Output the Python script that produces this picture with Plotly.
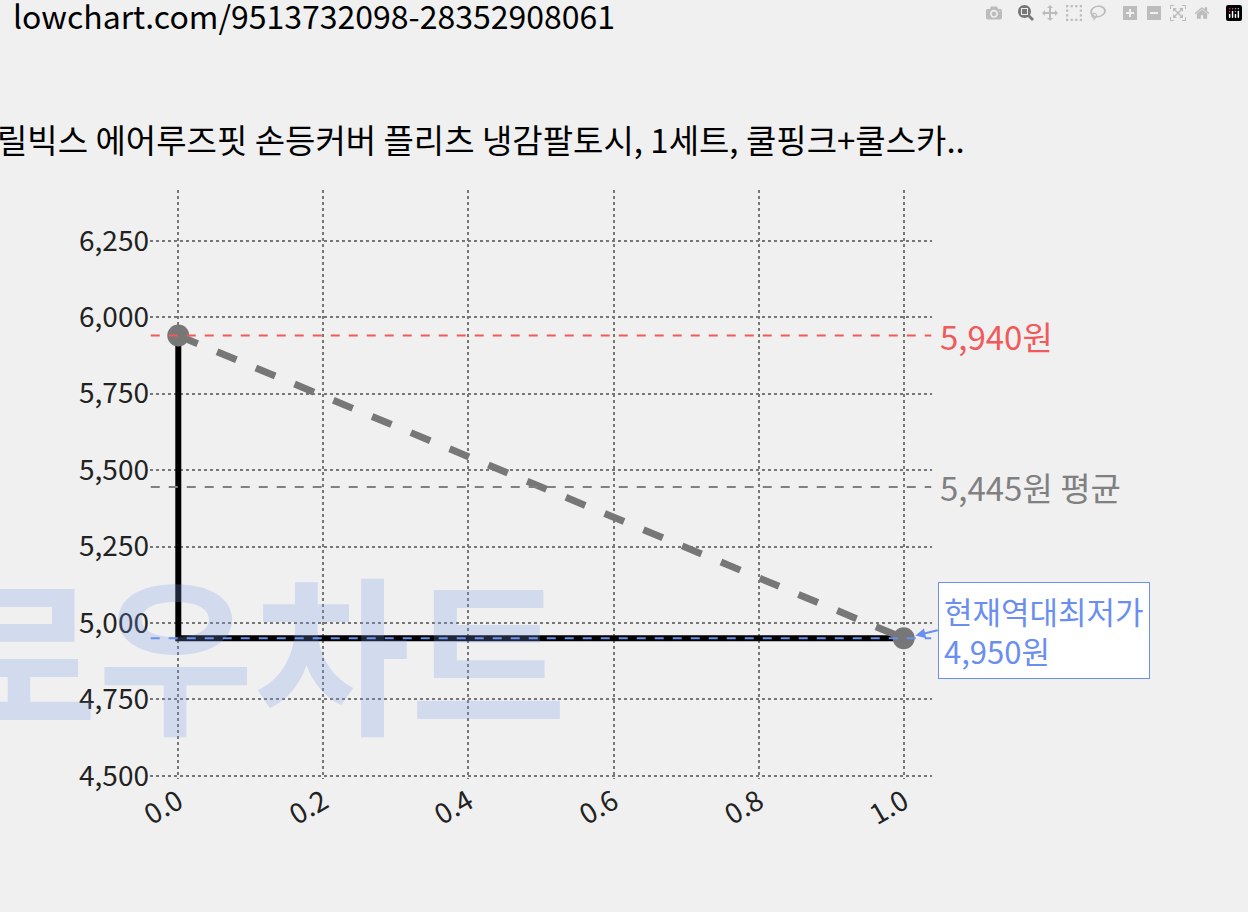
import plotly.graph_objects as go

x_vals = [0.0, 1.0]
prices = [5940, 4950]
step_x = [0.0, 0.0, 1.0]
step_y = [5940, 4950, 4950]
max_price = 5940
avg_price = 5445
min_price = 4950
y_ticks = [4500, 4750, 5000, 5250, 5500, 5750, 6000, 6250]
x_ticks = [0.0, 0.2, 0.4, 0.6, 0.8, 1.0]
title = "릴빅스 에어루즈핏 손등커버 플리츠 냉감팔토시, 1세트, 쿨핑크+쿨스카.."
url = "lowchart.com/9513732098-28352908061"

F = "Noto Sans CJK KR"
fig = go.Figure()
fig.add_annotation(xref="paper", yref="paper", x=-0.27, y=0.01, text="<b>로우차트</b>", showarrow=False,
                   xanchor="left", yanchor="bottom", font=dict(color="rgba(120,150,230,0.25)", size=170, family=F))
fig.add_trace(go.Scatter(x=step_x, y=step_y, mode="lines", line=dict(color="black", width=6), showlegend=False))
fig.add_trace(go.Scatter(x=x_vals, y=prices, mode="lines+markers", line=dict(color="#777", width=7, dash="dash"),
                         marker=dict(size=22, color="#777"), showlegend=False))
x0, x1 = -0.038, 1.038
for v, c in [(max_price, "#f05a5a"), (avg_price, "#808080"), (min_price, "#6a8ff0")]:
    fig.add_shape(type="line", x0=x0, x1=x1, y0=v, y1=v, line=dict(color=c, width=2, dash="dash"))
fig.add_annotation(xref="paper", x=1.0, y=max_price, text=f"{max_price:,}원", showarrow=False, xanchor="left",
                   font=dict(color="#f05a5a", size=33, family=F), xshift=6)
fig.add_annotation(xref="paper", x=1.0, y=avg_price, text=f"{avg_price:,}원 평균", showarrow=False, xanchor="left",
                   font=dict(color="#808080", size=33, family=F), xshift=6)
fig.add_annotation(x=1.0, y=min_price, ax=34, ay=-8, axref="pixel", ayref="pixel",
                   text=f"현재역대최저가<br>{min_price:,}원", showarrow=True, arrowhead=2, arrowcolor="#6a8ff0",
                   arrowwidth=2, standoff=12, xanchor="left", yanchor="middle", align="left", bgcolor="white",
                   bordercolor="#6a8ff0", borderwidth=1, borderpad=5, font=dict(color="#6a8ff0", size=31, family=F))
fig.add_annotation(xref="paper", yref="paper", x=-0.198, y=1.13, text=title, showarrow=False, xanchor="left",
                   font=dict(size=33, color="black", family=F))
fig.add_annotation(xref="paper", yref="paper", x=-0.178, y=1.34, text=url, showarrow=False, xanchor="left",
                   font=dict(size=32, color="black", family=F))
fig.update_layout(width=1248, height=912, paper_bgcolor="#f0f0f0", plot_bgcolor="#f0f0f0",
                  margin=dict(l=150, r=316, t=190, b=133), font=dict(family=F, size=28, color="#222"))
fig.update_xaxes(range=[-0.039, 1.039], tickvals=x_ticks, ticktext=[f"{t:.1f}" for t in x_ticks], tickangle=-30,
                 showgrid=True, gridcolor="#777", griddash="dot", gridwidth=2, zeroline=False, showline=False)
fig.update_yaxes(range=[4490, 6416], tickvals=y_ticks, ticktext=[f"{t:,}" for t in y_ticks],
                 showgrid=True, gridcolor="#777", griddash="dot", gridwidth=2, zeroline=False, showline=False)
fig.write_html("out.html", post_script="document.body.style.margin='0';document.body.style.background='#f0f0f0';")
